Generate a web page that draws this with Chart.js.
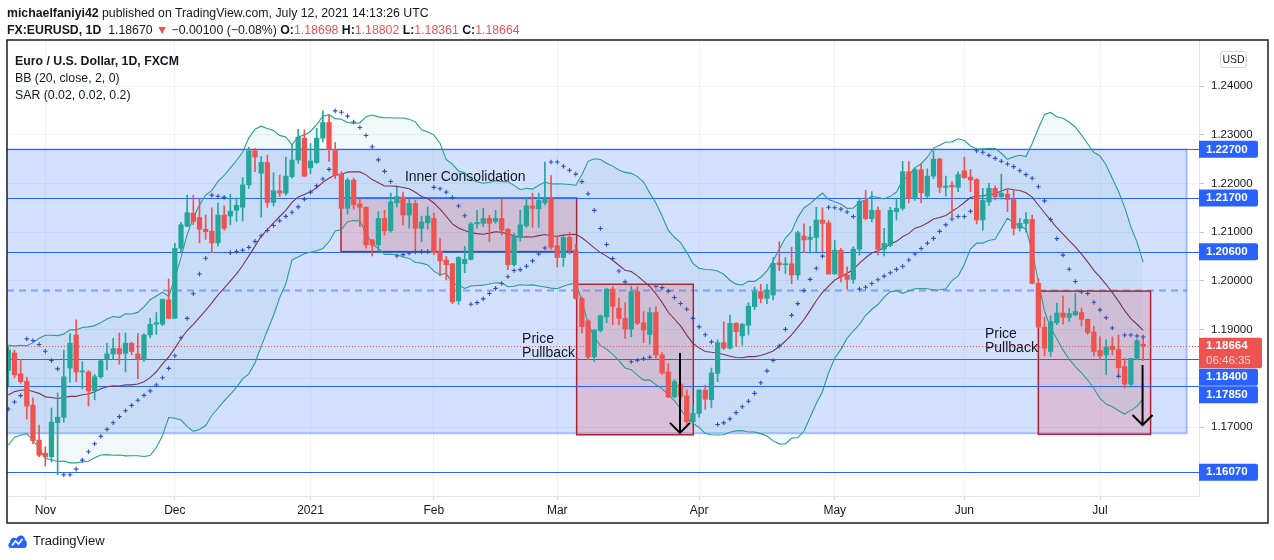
<!DOCTYPE html>
<html>
<head>
<meta charset="utf-8">
<title>EURUSD 1D</title>
<script src="https://cdn.jsdelivr.net/npm/chart.js@4.4.0/dist/chart.umd.min.js"></script>
<style>
  html, body { margin: 0; padding: 0; background: #fff; }
  body { width: 1274px; height: 560px; position: relative; overflow: hidden;
         font-family: "Liberation Sans", Arial, sans-serif; color: #131722; }
  #wrap { position: absolute; left: 0; top: 0; width: 1274px; height: 560px; }
  .txt { position: absolute; white-space: nowrap; font-size: 12.3px; line-height: 16px; }
  .red { color: #ef5350; }
  #usd { position: absolute; left: 1220px; top: 51px; width: 25px; height: 15px; border: 1px solid #d1d4dc;
         border-radius: 3px; font-size: 10.5px; line-height: 15px; text-align: center; background: #fff; }
  #foot { position: absolute; left: 8px; top: 533px; font-size: 13px; line-height: 16px; }
  #foot svg { vertical-align: top; margin-right: 6px; }
</style>
</head>
<body>
<div id="wrap"><canvas id="myChart" width="1274" height="560"></canvas></div>

<div class="txt" style="left:7px;top:5px"><b>michaelfaniyi42</b> published on TradingView.com, July 12, 2021 14:13:26 UTC</div>
<div class="txt" style="left:7px;top:22px"><b>FX:EURUSD, 1D</b>&nbsp; 1.18670 <span class="red">▼</span> −0.00100 (−0.08%) <b>O:</b><span class="red">1.18698</span> <b>H:</b><span class="red">1.18802</span> <b>L:</b><span class="red">1.18361</span> <b>C:</b><span class="red">1.18664</span></div>
<div class="txt" style="left:15px;top:53px"><b>Euro / U.S. Dollar, 1D, FXCM</b></div>
<div class="txt" style="left:15px;top:70px">BB (20, close, 2, 0)</div>
<div class="txt" style="left:15px;top:87px">SAR (0.02, 0.02, 0.2)</div>
<div id="usd">USD</div>
<div id="foot"><svg width="19" height="16" viewBox="0 0 19 16"><path d="M2.5 15 C0 15 -0.5 10.5 2 9.5 C2 5 6 3.5 8.5 5.5 C10.5 1 17 1.5 17 7 C19.5 7.5 19.5 15 16.5 15 Z" fill="#2962ff"/><path d="M4 12.5 L7.5 8 L10.5 11 L14.5 6" stroke="#fff" stroke-width="1.7" fill="none"/></svg>TradingView</div>

<script>
// daily candles, Oct 23 2020 .. Jul 12 2021 (one entry per trading day)
const opens = [
1.1816,1.1852,1.1809,1.1794,1.1745,1.1673,
1.1646,1.1639,1.1709,1.1720,1.1821,1.1889,1.1813,1.1813,1.1775,1.1803,1.1839,1.1850,1.1861,1.1851,1.1872,1.1850,1.1839,1.1889,1.1911,1.1911,1.1961,
1.1923,1.2067,1.2112,1.2139,1.2130,1.2106,1.2102,1.2078,1.2135,1.2133,1.2145,1.2151,1.2197,1.2267,1.2221,1.2243,1.2161,1.2185,1.2180,1.2214,1.2248,1.2293,
1.2232,1.2243,1.2293,1.2325,1.2270,1.2219,1.2149,1.2207,1.2158,1.2151,1.2084,1.2074,1.2128,1.2103,1.2160,1.2172,1.2135,1.2159,1.2108,1.2119,
1.2128,1.2060,1.2043,1.2035,1.1959,1.2035,1.2044,1.2117,1.2118,1.2128,1.2122,1.2128,1.2106,1.2033,1.2089,1.2113,1.2154,1.2148,1.2160,1.2169,
1.2072,1.2048,1.2089,1.2063,1.1964,1.1918,1.1844,1.1898,1.1926,1.1983,1.1944,1.1923,1.1901,1.1978,1.1914,1.1890,1.1935,1.1848,1.1813,1.1762,1.1788,1.1764,1.1711,
1.1728,1.1776,1.1756,1.1810,1.1873,1.1862,1.1913,1.1887,1.1909,1.1947,1.1978,1.1964,1.1971,1.2037,1.2033,1.2035,1.2012,1.2092,1.2085,1.2089,1.2125,1.2119,
1.2014,1.2063,1.2012,1.2003,1.2065,1.2165,1.2128,1.2145,1.2065,1.2073,1.2142,1.2149,1.2224,1.2170,1.2228,1.2174,1.2215,1.2250,1.2192,1.2196,1.2192,
1.2226,1.2213,1.2208,1.2125,1.2162,1.2190,1.2173,1.2178,1.2167,1.2108,1.2118,1.2126,1.1995,1.1905,1.1855,1.1914,1.1934,1.1925,1.1930,1.1935,1.1921,1.1895,
1.1857,1.1848,1.1866,1.1859,1.1824,1.1788,1.1841,1.18698
];
const highs = [
1.1866,1.1858,1.1839,1.1802,1.1760,1.1704,
1.1659,1.1739,1.1770,1.1858,1.1892,1.1920,1.1834,1.1816,1.1808,1.1838,1.1872,1.1882,1.1893,1.1893,1.1874,1.1892,1.1892,1.1923,1.1935,1.1963,1.2004,
1.2077,1.2120,1.2176,1.2176,1.2168,1.2135,1.2150,1.2160,1.2154,1.2178,1.2170,1.2212,1.2274,1.2272,1.2255,1.2258,1.2222,1.2217,1.2254,1.2279,1.2311,1.2310,
1.2282,1.2313,1.2349,1.2340,1.2284,1.2224,1.2211,1.2211,1.2169,1.2152,1.2085,1.2142,1.2145,1.2180,1.2192,1.2182,1.2167,1.2166,1.2133,1.2152,
1.2139,1.2087,1.2050,1.2036,1.2050,1.2071,1.2120,1.2145,1.2149,1.2135,1.2145,1.2169,1.2108,1.2098,1.2145,1.2169,1.2180,1.2180,1.2244,1.2216,
1.2091,1.2092,1.2100,1.2075,1.1967,1.1920,1.1900,1.1930,1.1985,1.1988,1.1965,1.1955,1.1989,1.1988,1.1937,1.1945,1.1947,1.1853,1.1830,1.1797,1.1790,1.1776,1.1743,
1.1777,1.1786,1.1821,1.1879,1.1916,1.1930,1.1914,1.1913,1.1955,1.1987,1.1993,1.1993,1.2048,1.2080,1.2048,1.2069,1.2102,1.2117,1.2112,1.2151,1.2150,1.2124,
1.2083,1.2067,1.2029,1.2070,1.2170,1.2186,1.2183,1.2152,1.2108,1.2151,1.2170,1.2245,1.2245,1.2232,1.2240,1.2230,1.2267,1.2252,1.2215,1.2204,1.2224,
1.2254,1.2229,1.2210,1.2190,1.2200,1.2195,1.2219,1.2190,1.2188,1.2128,1.2140,1.2135,1.2005,1.1926,1.1928,1.1954,1.1969,1.1943,1.1974,1.1944,1.1922,1.1907,
1.1885,1.1879,1.1885,1.1889,1.1841,1.1841,1.1880,1.18802
];
const lows = [
1.1784,1.1801,1.1790,1.1716,1.1666,1.1639,
1.1620,1.1628,1.1602,1.1710,1.1792,1.1793,1.1778,1.1743,1.1756,1.1800,1.1817,1.1839,1.1829,1.1813,1.1848,1.1799,1.1835,1.1883,1.1890,1.1908,1.1923,
1.1923,1.2060,1.2111,1.2115,1.2078,1.2085,1.2058,1.2071,1.2104,1.2115,1.2122,1.2123,1.2190,1.2224,1.2131,1.2151,1.2154,1.2173,1.2176,1.2211,1.2241,1.2214,
1.2220,1.2241,1.2285,1.2245,1.2210,1.2145,1.2137,1.2147,1.2111,1.2067,1.2051,1.2060,1.2094,1.2100,1.2152,1.2115,1.2108,1.2060,1.2080,1.2106,
1.2053,1.2010,1.2002,1.1953,1.1952,1.2017,1.2043,1.2108,1.2111,1.2080,1.2118,1.2094,1.2023,1.2030,1.2082,1.2110,1.2110,1.2110,1.2156,1.2065,
1.2028,1.2030,1.2055,1.1962,1.1893,1.1838,1.1834,1.1895,1.1914,1.1910,1.1910,1.1882,1.1885,1.1910,1.1873,1.1870,1.1841,1.1808,1.1760,1.1760,1.1760,1.1705,1.1706,
1.1720,1.1736,1.1740,1.1793,1.1859,1.1860,1.1866,1.1868,1.1889,1.1941,1.1955,1.1953,1.1961,1.2021,1.2015,1.1994,1.2003,1.2058,1.2057,1.2060,1.2060,1.2014,
1.2014,1.1998,1.1983,1.1995,1.2053,1.2125,1.2121,1.2053,1.2051,1.2070,1.2125,1.2145,1.2160,1.2165,1.2160,1.2170,1.2210,1.2181,1.2174,1.2132,1.2183,
1.2210,1.2183,1.2117,1.2104,1.2155,1.2166,1.2168,1.2142,1.2094,1.2102,1.2100,1.1993,1.1903,1.1846,1.1845,1.1910,1.1911,1.1917,1.1928,1.1907,1.1890,1.1846,
1.1839,1.1807,1.1848,1.1804,1.1780,1.1782,1.1838,1.18361
];
const closes = [
1.1858,1.1807,1.1793,1.1743,1.1672,1.1642,
1.1639,1.1710,1.1720,1.1803,1.1872,1.1813,1.1815,1.1774,1.1803,1.1836,1.1850,1.1861,1.1850,1.1872,1.1855,1.1839,1.1889,1.1911,1.1914,1.1962,1.1923,
1.2067,1.2115,1.2140,1.2122,1.2106,1.2101,1.2078,1.2135,1.2108,1.2143,1.2155,1.2197,1.2267,1.2254,1.2243,1.2161,1.2185,1.2180,1.2215,1.2248,1.2295,1.2215,
1.2246,1.2293,1.2325,1.2270,1.2217,1.2149,1.2207,1.2156,1.2151,1.2074,1.2074,1.2128,1.2103,1.2162,1.2173,1.2135,1.2159,1.2108,1.2121,1.2133,
1.2058,1.2041,1.2033,1.1957,1.2048,1.2044,1.2117,1.2120,1.2128,1.2118,1.2128,1.2104,1.2033,1.2091,1.2115,1.2154,1.2149,1.2165,1.2167,1.2069,
1.2048,1.2089,1.2062,1.1964,1.1906,1.1844,1.1899,1.1928,1.1983,1.1948,1.1923,1.1901,1.1978,1.1913,1.1899,1.1935,1.1848,1.1811,1.1762,1.1793,1.1763,1.1711,1.1728,
1.1776,1.1757,1.1811,1.1873,1.1862,1.1913,1.1896,1.1911,1.1948,1.1978,1.1964,1.1981,1.2036,1.2033,1.2035,1.2012,1.2099,1.2084,1.2090,1.2125,1.2118,1.2014,
1.2063,1.2009,1.2003,1.2065,1.2163,1.2128,1.2145,1.2065,1.2077,1.2145,1.2149,1.2224,1.2170,1.2228,1.2181,1.2215,1.2250,1.2192,1.2195,1.2193,1.2218,
1.2212,1.2207,1.2125,1.2165,1.2190,1.2173,1.2180,1.2167,1.2108,1.2118,1.2126,1.1995,1.1905,1.1862,1.1916,1.1934,1.1925,1.1933,1.1937,1.1921,1.1894,1.1855,
1.1846,1.1864,1.1859,1.1822,1.1788,1.1841,1.1877,1.18664
];
// the 19 closes before the first shown bar, only used to start BB(20)
const warmupCloses = [1.1665,1.1737,1.1721,1.1747,1.1716,1.1782,1.1737,1.1763,1.1759,1.1827,
                      1.1813,1.1745,1.1748,1.1706,1.1718,1.1768,1.1822,1.1862,1.1816];

const monthStarts = [6, 27, 49, 69, 89, 112, 134, 155, 177];
const monthLabels = ['Nov', 'Dec', '2021', 'Feb', 'Mar', 'Apr', 'May', 'Jun', 'Jul'];
const priceTicks = [1.16, 1.17, 1.18, 1.19, 1.20, 1.21, 1.22, 1.23, 1.24];
const levels = [1.2270, 1.2170, 1.2060, 1.1840, 1.1785, 1.1607];
const lastPrice = 1.18664;
const countdown = '06:46:35';

// SAR (0.02, 0.02, 0.2), state carried in from the bars before the window
const sarStart = 0.02, sarStep = 0.02, sarMax = 0.2;
const sarSeed = { value: 1.1737, extreme: 1.1881, accel: 0.10, rising: true };

// drawings on the chart, in bar index / price
const zone = { from: -5, to: 191.05, top: 1.2270, bottom: 1.1687 };
const midLine = 1.1980;
const boxes = [
  { from: 53.94, to: 92.15, top: 1.2170, bottom: 1.2060 },
  { from: 92.15, to: 111.06, top: 1.1993, bottom: 1.1684 },
  { from: 167.0, to: 185.2, top: 1.1979, bottom: 1.1685 }
];
const arrows = [
  { at: 108.9, from: 1.1852, to: 1.1688 },
  { at: 183.9, from: 1.1827, to: 1.1704 }
];
const notes = [
  { text: 'Inner Consolidation', at: 64.3, price: 1.2213 },
  { text: 'Price', at: 83.3, price: 1.1880 },
  { text: 'Pullback', at: 83.3, price: 1.1852 },
  { text: 'Price', at: 158.35, price: 1.1891 },
  { text: 'Pullback', at: 158.35, price: 1.1862 }
];

const upColor = '#26a69a';
const downColor = '#ef5350';

// Bollinger bands 20, 2
const allCloses = warmupCloses.concat(closes);
const bbMid = [], bbUp = [], bbLo = [];
for (let i = 0; i < closes.length; i++) {
  const win = allCloses.slice(i, i + 20);
  const m = win.reduce((a, b) => a + b, 0) / 20;
  const sd = Math.sqrt(win.reduce((a, b) => a + (b - m) * (b - m), 0) / 20);
  bbMid.push({ x: i, y: m });
  bbUp.push({ x: i, y: m + 2 * sd });
  bbLo.push({ x: i, y: m - 2 * sd });
}

// parabolic SAR
const sar = [{ x: 0, y: sarSeed.value }];
let res = sarSeed.value, ep = sarSeed.extreme, af = sarSeed.accel, up = sarSeed.rising;
for (let i = 1; i < closes.length; i++) {
  res = res + af * (ep - res);
  let flipped = false;
  if (up && res > lows[i]) {
    flipped = true; up = false; res = Math.max(highs[i], ep); ep = lows[i]; af = sarStart;
  } else if (!up && res < highs[i]) {
    flipped = true; up = true; res = Math.min(lows[i], ep); ep = highs[i]; af = sarStart;
  }
  if (!flipped) {
    if (up && highs[i] > ep) { ep = highs[i]; af = Math.min(af + sarStep, sarMax); }
    if (!up && lows[i] < ep) { ep = lows[i]; af = Math.min(af + sarStep, sarMax); }
  }
  if (up) { res = Math.min(res, lows[i - 1]); if (i > 1) res = Math.min(res, lows[i - 2]); }
  else { res = Math.max(res, highs[i - 1]); if (i > 1) res = Math.max(res, highs[i - 2]); }
  sar.push({ x: i, y: res });
}

const bodies = closes.map((c, i) => ({ x: i, y: [opens[i], c] }));
const wicks = closes.map((c, i) => ({ x: i, y: [lows[i], highs[i]] }));
const candleColors = closes.map((c, i) => (c >= opens[i] ? upColor : downColor));

const FONT = "'Liberation Sans', Arial, sans-serif";
Chart.defaults.font.family = FONT;
Chart.defaults.color = '#131722';

const drawings = {
  id: 'drawings',
  beforeDatasetsDraw(chart) {
    const { ctx, chartArea: a, scales: { x, y } } = chart;
    ctx.save();
    ctx.beginPath(); ctx.rect(a.left, a.top, a.width, a.height); ctx.clip();

    // big zone
    const zx0 = x.getPixelForValue(zone.from), zx1 = x.getPixelForValue(zone.to);
    const zy0 = y.getPixelForValue(zone.top), zy1 = y.getPixelForValue(zone.bottom);
    ctx.fillStyle = 'rgba(41,98,255,0.2)';
    ctx.fillRect(zx0, zy0, zx1 - zx0, zy1 - zy0);
    ctx.strokeStyle = 'rgba(41,98,255,0.35)';
    ctx.lineWidth = 2;
    ctx.strokeRect(zx0, zy0, zx1 - zx0, zy1 - zy0);

    // dashed middle
    const my = y.getPixelForValue(midLine);
    ctx.strokeStyle = 'rgba(41,98,255,0.5)';
    ctx.lineWidth = 2;
    ctx.setLineDash([7, 5]);
    ctx.beginPath(); ctx.moveTo(a.left, my); ctx.lineTo(zx1, my); ctx.stroke();
    ctx.setLineDash([]);

    // red boxes
    boxes.forEach(b => {
      const x0 = x.getPixelForValue(b.from), x1 = x.getPixelForValue(b.to);
      const y0 = y.getPixelForValue(b.top), y1 = y.getPixelForValue(b.bottom);
      ctx.fillStyle = 'rgba(242,54,69,0.2)';
      ctx.fillRect(x0, y0, x1 - x0, y1 - y0);
      ctx.strokeStyle = '#b2222c';
      ctx.lineWidth = 1.5;
      ctx.strokeRect(x0, y0, x1 - x0, y1 - y0);
    });

    // horizontal levels
    ctx.strokeStyle = '#2962ff';
    ctx.lineWidth = 1;
    levels.forEach(v => {
      const py = Math.round(y.getPixelForValue(v)) + 0.5;
      ctx.beginPath(); ctx.moveTo(a.left, py); ctx.lineTo(a.right, py); ctx.stroke();
    });

    // last price line
    const lp = Math.round(y.getPixelForValue(lastPrice)) + 0.5;
    ctx.strokeStyle = downColor;
    ctx.setLineDash([1, 2]);
    ctx.beginPath(); ctx.moveTo(a.left, lp); ctx.lineTo(a.right, lp); ctx.stroke();
    ctx.setLineDash([]);
    ctx.restore();
  },
  afterDatasetsDraw(chart) {
    const { ctx, chartArea: a, scales: { x, y } } = chart;
    ctx.save();
    ctx.beginPath(); ctx.rect(a.left, a.top, a.width, a.height); ctx.clip();

    ctx.strokeStyle = '#000';
    ctx.lineWidth = 2;
    arrows.forEach(r => {
      const px = x.getPixelForValue(r.at);
      const y0 = y.getPixelForValue(r.from), y1 = y.getPixelForValue(r.to);
      ctx.beginPath(); ctx.moveTo(px, y0); ctx.lineTo(px, y1); ctx.stroke();
      ctx.beginPath(); ctx.moveTo(px - 10, y1 - 10); ctx.lineTo(px, y1); ctx.lineTo(px + 10, y1 - 10); ctx.stroke();
    });

    ctx.fillStyle = '#131722';
    ctx.font = '14px ' + FONT;
    ctx.textAlign = 'left';
    ctx.textBaseline = 'middle';
    notes.forEach(n => ctx.fillText(n.text, x.getPixelForValue(n.at), y.getPixelForValue(n.price)));
    ctx.restore();
  },
  afterDraw(chart) {
    const { ctx, chartArea: a, scales: { y } } = chart;
    ctx.save();
    // price tags on the axis
    const tags = levels.map(v => ({ text: v.toFixed(5), py: y.getPixelForValue(v), h: 17, off: 8.5, w: 59, color: '#2962ff' }));
    tags.push({ text: lastPrice.toFixed(5), sub: countdown, py: y.getPixelForValue(lastPrice), h: 30.6, off: 8.3, w: 63, color: downColor });
    tags.sort((p, q) => p.py - q.py);
    let prevBottom = -1e9;
    tags.forEach(t => {
      const top = Math.max(t.py - t.off, prevBottom + 0.5);
      prevBottom = top + t.h;
      ctx.fillStyle = t.color;
      ctx.beginPath(); ctx.roundRect(a.right, top, t.w, t.h, [0, 2, 2, 0]); ctx.fill();
      ctx.fillStyle = '#fff';
      ctx.font = 'bold 11.5px ' + FONT;
      ctx.textAlign = 'left';
      ctx.textBaseline = 'middle';
      ctx.fillText(t.text, a.right + 7, top + 8.5);
      if (t.sub) {
        ctx.font = '11.5px ' + FONT;
        ctx.fillStyle = 'rgba(255,255,255,0.78)';
        ctx.fillText(t.sub, a.right + 7, top + 23);
      }
    });
    // outer frame
    ctx.strokeStyle = '#1c1c1c';
    ctx.lineWidth = 1.5;
    ctx.strokeRect(7, 40, 1261, 483);
    ctx.restore();
  }
};

const config = {
  type: 'bar',
  data: {
    datasets: [
      { type: 'line', label: 'BB upper', data: bbUp, borderColor: '#2a9d8f', borderWidth: 1.1, pointRadius: 0,
        fill: 1, backgroundColor: 'rgba(38,166,154,0.07)', order: 5 },
      { type: 'line', label: 'BB lower', data: bbLo, borderColor: '#2a9d8f', borderWidth: 1.1, pointRadius: 0, order: 4 },
      { type: 'line', label: 'BB basis', data: bbMid, borderColor: '#7b3457', borderWidth: 1.1, pointRadius: 0, order: 3 },
      { label: 'wick', data: wicks, backgroundColor: candleColors, barThickness: 1, grouped: false, order: 2 },
      { label: 'body', data: bodies, backgroundColor: candleColors, barThickness: 4.6, minBarLength: 1, grouped: false, order: 1 },
      { type: 'line', label: 'SAR', data: sar, showLine: false, pointStyle: 'cross', pointRadius: 2.3,
        pointBorderWidth: 1.1, pointBorderColor: '#3050b8', order: 0 }
    ]
  },
  options: {
    responsive: false,
    animation: false,
    events: [],
    layout: { padding: { left: 7, right: 6, top: 40, bottom: 37 } },
    plugins: { legend: { display: false }, tooltip: { enabled: false } },
    scales: {
      x: {
        type: 'linear', min: -0.21, max: 193.05, offset: false,
        afterBuildTicks: s => { s.ticks = monthStarts.map(v => ({ value: v })); },
        afterFit: s => { s.height = 27; },
        ticks: { autoSkip: false, maxRotation: 0, padding: 3, font: { size: 12 },
                 callback: (v, i) => monthLabels[i] },
        grid: { offset: false, color: '#f0f3fa', tickLength: 4, tickColor: '#d1d4dc' },
        border: { color: '#e0e3eb' }
      },
      y: {
        type: 'linear', position: 'right', min: 1.155836, max: 1.249443,
        afterBuildTicks: s => { s.ticks = priceTicks.map(v => ({ value: v })); },
        afterFit: s => { s.width = 69; },
        ticks: { autoSkip: false, padding: 7, font: { size: 11.5 }, callback: v => v.toFixed(5) },
        grid: { color: '#f0f3fa', tickLength: 5, tickColor: '#c8cbd3' },
        border: { color: '#e0e3eb' }
      }
    }
  },
  plugins: [drawings]
};

const myChart = new Chart(document.getElementById('myChart'), config);
</script>
</body>
</html>
